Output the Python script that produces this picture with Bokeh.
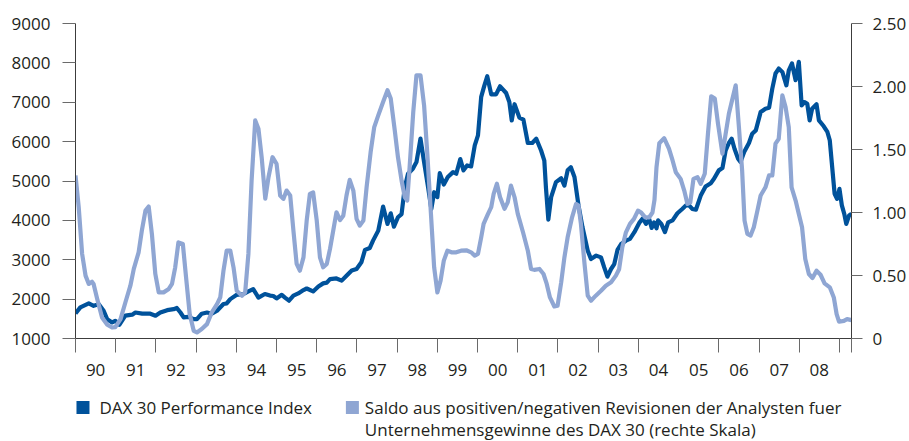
from bokeh.plotting import figure
from bokeh.models import Range1d, LinearAxis, FixedTicker
from bokeh.layouts import column
from bokeh.embed import file_html
from bokeh.resources import INLINE
from bokeh.core.properties import value

# ---------------- data ----------------
dax_t = [1990.00, 1990.12, 1990.33, 1990.45, 1990.58, 1990.70, 1990.79, 1990.91, 1990.99,
         1991.09, 1991.24, 1991.41, 1991.49, 1991.66, 1991.86, 1991.99, 1992.11, 1992.28,
         1992.44, 1992.52, 1992.61, 1992.69, 1992.81, 1992.94, 1993.02, 1993.14, 1993.27,
         1993.39, 1993.52, 1993.68, 1993.76, 1993.85, 1994.01, 1994.18, 1994.30, 1994.42,
         1994.55, 1994.71, 1994.84, 1994.92, 1995.00, 1995.13, 1995.21, 1995.31, 1995.42,
         1995.54, 1995.67, 1995.75, 1995.91, 1996.04, 1996.16, 1996.25, 1996.33, 1996.49,
         1996.62, 1996.74, 1996.87, 1996.99, 1997.11, 1997.20, 1997.32, 1997.40, 1997.53,
         1997.65, 1997.76, 1997.84, 1997.92, 1998.02, 1998.11, 1998.19, 1998.27, 1998.39,
         1998.48, 1998.58, 1998.67, 1998.77, 1998.85, 1998.92, 1999.00, 1999.06, 1999.16,
         1999.26, 1999.39, 1999.47, 1999.57, 1999.65, 1999.74, 1999.84, 1999.93, 2000.01,
         2000.09, 2000.17, 2000.24, 2000.34, 2000.46, 2000.56, 2000.71, 2000.79, 2000.85,
         2000.92, 2001.04, 2001.14, 2001.25, 2001.36, 2001.46, 2001.58, 2001.66, 2001.70,
         2001.76, 2001.83, 2001.95, 2002.08, 2002.16, 2002.24, 2002.32, 2002.41, 2002.51,
         2002.61, 2002.74, 2002.82, 2002.95, 2003.07, 2003.15, 2003.23, 2003.32, 2003.40,
         2003.48, 2003.57, 2003.69, 2003.79, 2003.90, 2004.03, 2004.11, 2004.19, 2004.27,
         2004.33, 2004.39, 2004.45, 2004.49, 2004.57, 2004.66, 2004.74, 2004.85, 2004.97,
         2005.09, 2005.18, 2005.26, 2005.34, 2005.43, 2005.55, 2005.67, 2005.80, 2005.88,
         2006.00, 2006.09, 2006.17, 2006.25, 2006.32, 2006.39, 2006.48, 2006.54, 2006.63,
         2006.75, 2006.83, 2006.92, 2007.04, 2007.16, 2007.25, 2007.33, 2007.41, 2007.49,
         2007.58, 2007.68, 2007.74, 2007.82, 2007.91, 2007.99, 2008.06, 2008.13, 2008.20,
         2008.26, 2008.32, 2008.43, 2008.49, 2008.61, 2008.70, 2008.76, 2008.82, 2008.88,
         2008.94, 2009.00, 2009.06, 2009.12, 2009.17, 2009.24, 2009.30]
dax_v = [1636, 1790, 1890, 1830, 1870, 1705, 1490, 1407, 1450,
         1350, 1580, 1605, 1660, 1630, 1630, 1580, 1660, 1720,
         1745, 1775, 1660, 1535, 1550, 1490, 1490, 1630, 1660,
         1630, 1705, 1875, 1890, 2000, 2110, 2130, 2195, 2255,
         2040, 2130, 2090, 2080, 2018, 2110, 2040, 1960, 2090,
         2145, 2230, 2270, 2195, 2320, 2400, 2420, 2510, 2525,
         2470, 2595, 2725, 2765, 2935, 3250, 3300, 3485, 3740,
         4350, 3910, 4180, 3840, 4080, 4160, 4840, 5185, 5310,
         5480, 6075, 5480, 4840, 4290, 4715, 4590, 5200, 4910,
         5100, 5225, 5185, 5555, 5270, 5395, 5370, 5905, 6160,
         7135, 7430, 7660, 7200, 7200, 7405, 7235, 7005, 6540,
         6950, 6610, 6560, 5965, 5965, 6075, 5775, 5520, 4840,
         4020, 4590, 4970, 5070, 4885, 5270, 5350, 5100, 4380,
         3825, 3230, 3020, 3105, 3060, 2805, 2570, 2765, 2890,
         3250, 3400, 3485, 3530, 3700, 3950, 4050, 3910, 4030,
         3810, 3950, 3800, 4000, 3910, 3700, 3950, 4000, 4180,
         4290, 4380, 4380, 4290, 4270, 4630, 4860, 4945, 5055,
         5270, 5330, 5775, 5965, 6075, 5820, 5565, 5480, 5735,
         5965, 6200, 6285, 6750, 6835, 6860, 7345, 7730, 7855,
         7770, 7430, 7810, 7985, 7560, 8025, 6920, 7005, 6960,
         6540, 6835, 6950, 6540, 6390, 6245, 6030, 5350, 4675,
         4545, 4800, 4380, 4165, 3910, 4125, 4165]

rev_t = [1990.00, 1990.08, 1990.165, 1990.25, 1990.33, 1990.41, 1990.45, 1990.54, 1990.66,
         1990.79, 1990.91, 1990.99, 1991.12, 1991.24, 1991.365, 1991.45, 1991.57, 1991.65,
         1991.74, 1991.82, 1991.90, 1991.985, 1992.07, 1992.19, 1992.32, 1992.40, 1992.48,
         1992.56, 1992.67, 1992.75, 1992.84, 1992.94, 1993.02, 1993.14, 1993.27, 1993.39,
         1993.52, 1993.60, 1993.68, 1993.76, 1993.85, 1993.93, 1994.01, 1994.14, 1994.22,
         1994.30, 1994.38, 1994.47, 1994.55, 1994.63, 1994.72, 1994.80, 1994.90, 1995.00,
         1995.09, 1995.17, 1995.25, 1995.34, 1995.42, 1995.50, 1995.58, 1995.67, 1995.75,
         1995.83, 1995.91, 1996.00, 1996.08, 1996.16, 1996.25, 1996.33, 1996.41, 1996.49,
         1996.58, 1996.66, 1996.74, 1996.82, 1996.91, 1996.99, 1997.07, 1997.16, 1997.24,
         1997.34, 1997.43, 1997.53, 1997.65, 1997.76, 1997.84, 1997.94, 1998.02, 1998.11,
         1998.19, 1998.25, 1998.31, 1998.40, 1998.48, 1998.58, 1998.67, 1998.75, 1998.83,
         1998.92, 1999.00, 1999.08, 1999.16, 1999.25, 1999.35, 1999.47, 1999.59, 1999.72,
         1999.84, 1999.93, 2000.01, 2000.09, 2000.15, 2000.26, 2000.34, 2000.40, 2000.48,
         2000.56, 2000.67, 2000.75, 2000.83, 2000.92, 2001.00, 2001.13, 2001.25, 2001.33,
         2001.41, 2001.54, 2001.64, 2001.72, 2001.80, 2001.91, 2001.99, 2002.08, 2002.16,
         2002.24, 2002.35, 2002.45, 2002.51, 2002.57, 2002.66, 2002.74, 2002.82, 2002.94,
         2003.07, 2003.19, 2003.32, 2003.44, 2003.52, 2003.60, 2003.69, 2003.79, 2003.89,
         2003.99, 2004.06, 2004.17, 2004.27, 2004.35, 2004.40, 2004.45, 2004.52, 2004.64,
         2004.76, 2004.85, 2004.93, 2005.05, 2005.14, 2005.22, 2005.29, 2005.37, 2005.47,
         2005.55, 2005.65, 2005.73, 2005.81, 2005.90, 2005.98, 2006.09, 2006.17, 2006.25,
         2006.33, 2006.42, 2006.50, 2006.58, 2006.64, 2006.71, 2006.79, 2006.87, 2006.96,
         2007.04, 2007.16, 2007.25, 2007.33, 2007.41, 2007.49, 2007.58, 2007.66, 2007.74,
         2007.81, 2007.91, 2007.99, 2008.07, 2008.15, 2008.24, 2008.33, 2008.43, 2008.53,
         2008.63, 2008.76, 2008.86, 2008.93, 2008.99, 2009.11, 2009.19, 2009.30]
rev_v = [1.294, 1.042, 0.671, 0.499, 0.433, 0.450, 0.433, 0.313, 0.167,
         0.109, 0.087, 0.090, 0.154, 0.286, 0.419, 0.552, 0.684, 0.856,
         1.015, 1.047, 0.830, 0.512, 0.366, 0.366, 0.393, 0.433, 0.565,
         0.763, 0.750, 0.485, 0.194, 0.061, 0.048, 0.075, 0.114, 0.207,
         0.273, 0.326, 0.538, 0.697, 0.697, 0.565, 0.379, 0.340, 0.366,
         0.671, 1.254, 1.731, 1.665, 1.439, 1.110, 1.280, 1.439, 1.387,
         1.135, 1.108, 1.174, 1.135, 0.856, 0.592, 0.538, 0.644, 0.936,
         1.148, 1.160, 0.936, 0.644, 0.565, 0.592, 0.711, 0.856, 1.002,
         0.940, 0.975, 1.135, 1.259, 1.174, 0.950, 0.896, 0.936, 1.200,
         1.479, 1.678, 1.771, 1.877, 1.970, 1.904, 1.652, 1.439, 1.254,
         1.121, 1.095, 1.360, 1.797, 2.089, 2.089, 1.850, 1.466, 1.042,
         0.565, 0.366, 0.459, 0.618, 0.697, 0.684, 0.684, 0.697, 0.700,
         0.684, 0.658, 0.671, 0.803, 0.910, 0.989, 1.042, 1.148, 1.228,
         1.121, 1.029, 1.080, 1.214, 1.121, 0.989, 0.843, 0.697, 0.552,
         0.545, 0.552, 0.512, 0.433, 0.326, 0.254, 0.260, 0.446, 0.644,
         0.803, 0.962, 1.068, 1.055, 0.910, 0.592, 0.340, 0.300, 0.340,
         0.379, 0.419, 0.446, 0.499, 0.550, 0.724, 0.843, 0.910, 0.949,
         1.015, 1.002, 0.962, 0.962, 1.000, 1.100, 1.360, 1.550, 1.590,
         1.506, 1.413, 1.320, 1.267, 1.174, 1.068, 1.080, 1.267, 1.280,
         1.228, 1.307, 1.625, 1.922, 1.904, 1.705, 1.466, 1.625, 1.784,
         1.890, 2.009, 1.678, 1.333, 0.936, 0.830, 0.817, 0.883, 1.015,
         1.135, 1.200, 1.294, 1.294, 1.546, 1.585, 1.930, 1.837, 1.678,
         1.200, 1.095, 0.989, 0.883, 0.631, 0.512, 0.480, 0.538, 0.506,
         0.437, 0.406, 0.326, 0.194, 0.133, 0.140, 0.154, 0.146]

left_ticks = [1000, 2000, 3000, 4000, 5000, 6000, 7000, 8000, 9000]
right_ticks = [0, 0.5, 1.0, 1.5, 2.0, 2.5]
right_tick_labels = ["0", "0.50", "1.00", "1.50", "2.00", "2.50"]
years = list(range(1990, 2009))
year_labels = ["90", "91", "92", "93", "94", "95", "96", "97", "98", "99",
               "00", "01", "02", "03", "04", "05", "06", "07", "08"]
series_names = ["DAX 30 Performance Index",
                "Saldo aus positiven/negativen Revisionen der Analysten fuer",
                "Unternehmensgewinne des DAX 30 (rechte Skala)"]

# ---------------- styling ----------------
DARK = "#00529b"
LIGHT = "#8fa6d3"
TXT = "#231f20"
AXC = "#3c3c3c"
TKC = "#6a6a6a"
FONT = "Open Sans"

x_start, x_end = 1990.0, 2009.30
W, H_MAIN, H_LEG = 909, 380, 61

p = figure(width=W, height=H_MAIN, output_backend="svg", toolbar_location=None,
           x_range=Range1d(x_start, x_end), y_range=Range1d(1000, 9000),
           min_border_left=75, min_border_right=56, min_border_top=23, min_border_bottom=42,
           background_fill_color="white", border_fill_color="white")
p.outline_line_color = None
p.grid.visible = False
p.extra_y_ranges = {"rev": Range1d(0, 2.5)}

# left axis
ya = p.yaxis[0]
ya.ticker = FixedTicker(ticks=left_ticks)
ya.major_tick_out = 13
ya.major_tick_in = 0
ya.minor_tick_line_color = None
ya.major_tick_line_color = TKC
ya.axis_line_color = AXC
ya.major_label_standoff = 12
ya.major_label_text_font = FONT
ya.major_label_text_font_size = "17px"
ya.major_label_text_color = TXT

# right axis
ra = LinearAxis(y_range_name="rev",
                ticker=FixedTicker(ticks=right_ticks),
                major_label_overrides={t: l for t, l in zip(right_ticks, right_tick_labels)})
ra.major_tick_out = 11
ra.major_tick_in = 0
ra.minor_tick_line_color = None
ra.major_tick_line_color = TKC
ra.axis_line_color = AXC
ra.major_label_standoff = 10
ra.major_label_text_font = FONT
ra.major_label_text_font_size = "17px"
ra.major_label_text_color = TXT
p.add_layout(ra, "right")

# bottom axis: labels at mid-year, tick marks at year boundaries
xa = p.xaxis[0]
mid = [y + 0.5 for y in years]
xa.ticker = FixedTicker(ticks=mid, minor_ticks=[float(y) for y in years] + [2009.0, x_end])
xa.major_label_overrides = {m: l for m, l in zip(mid, year_labels)}
xa.major_tick_line_color = None
xa.major_tick_out = 0
xa.major_tick_in = 0
xa.minor_tick_out = 14
xa.minor_tick_in = 0
xa.minor_tick_line_color = TKC
xa.axis_line_color = AXC
xa.major_label_standoff = 11
xa.major_label_text_font = FONT
xa.major_label_text_font_size = "17px"
xa.major_label_text_color = TXT

p.line(dax_t, dax_v, line_color=DARK, line_width=4.2, line_join="round")
p.line(rev_t, rev_v, y_range_name="rev", line_color=LIGHT, line_width=4.2, line_join="round")

# ---------------- legend strip (its frame is aligned with the chart frame) ----------------
# coordinates of this strip are page pixels: x from the frame's left edge, y downward
leg = figure(width=W, height=H_LEG, output_backend="svg", toolbar_location=None,
             x_range=Range1d(75, 852.7), y_range=Range1d(H_MAIN + H_LEG, H_MAIN),
             x_axis_type=None, y_axis_type=None, min_border=0,
             background_fill_color="white", border_fill_color="white")
leg.outline_line_color = None
leg.grid.visible = False
leg.rect(x=[82.5, 352.5], y=[407, 407], width=13, height=13,
         width_units="screen", height_units="screen",
         fill_color=[DARK, LIGHT], line_color=None)
leg.text(x=[99, 365, 365], y=[407, 407, 429], text=series_names,
         text_font=value(FONT), text_font_size="17px", text_baseline="middle",
         text_align="left", text_color=TXT)

layout = column(p, leg, spacing=0)
open("out.html", "w").write(file_html(layout, INLINE))
